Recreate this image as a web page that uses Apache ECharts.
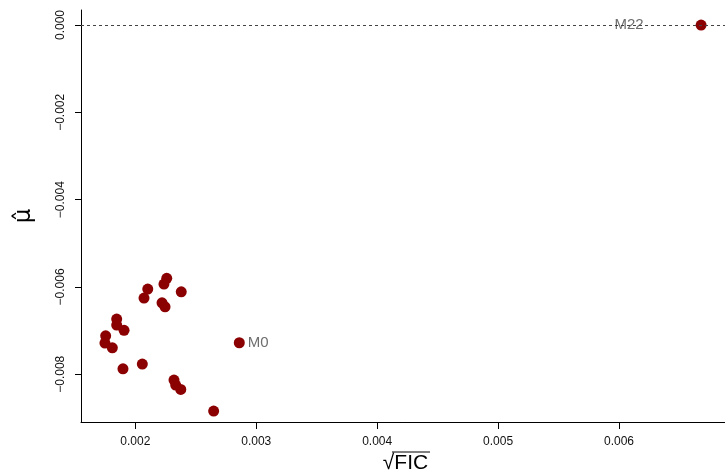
<!DOCTYPE html>
<html>
<head>
<meta charset="utf-8">
<script src="https://cdn.jsdelivr.net/npm/echarts@6/dist/echarts.min.js"></script>
<style>html,body{margin:0;padding:0;background:#fff}#c{width:725px;height:476px}</style>
</head>
<body>
<div id="c"></div>
<script>
const sqrtFIC = [0.002260, 0.002237, 0.002103, 0.002072, 0.002380, 0.002221, 0.002246,
  0.001846, 0.001846, 0.001907, 0.001755, 0.001749, 0.001810, 0.002860,
  0.001898, 0.002058, 0.002320, 0.002334, 0.002376, 0.002648, 0.006679];
const muHat = [-0.005803, -0.005934, -0.006048, -0.006254, -0.006110, -0.006362, -0.006454,
  -0.006735, -0.006873, -0.006994, -0.007118, -0.007285, -0.007393, -0.007278,
  -0.007874, -0.007766, -0.008133, -0.008247, -0.008346, -0.008843, 0.000000];
const modelLabel = ['', '', '', '', '', '', '', '', '', '', '', '', '', 'M0',
  '', '', '', '', '', '', 'M22'];
const xTicks = [0.002, 0.003, 0.004, 0.005, 0.006];
const yTicks = [0.000, -0.002, -0.004, -0.006, -0.008];
const refLine = 0;

const fmt = v => (v < 0 ? '\u2212' : '') + Math.abs(v).toFixed(3);
const labelPos = {'M0': {position: 'right', distance: 3}, 'M22': {position: 'left', distance: 52}};

const data = sqrtFIC.map((x, i) => {
  const item = {value: [x, muHat[i]], name: modelLabel[i]};
  if (modelLabel[i]) {
    item.label = Object.assign({show: true, formatter: '{b}', color: '#6e6e6e',
      fontSize: 15, fontFamily: 'Liberation Sans'}, labelPos[modelLabel[i]]);
  }
  return item;
});

const chart = echarts.init(document.getElementById('c'), null, {renderer: 'canvas'});
chart.setOption({
  animation: false,
  backgroundColor: '#fff',
  grid: {left: 81, right: 0, top: 10, bottom: 54, containLabel: false, outerBoundsMode: 'none'},
  xAxis: {
    type: 'value', min: 0.0015509, max: 0.0068768,
    name: '\u221AFIC', nameLocation: 'middle', nameGap: 29,
    nameTextStyle: {fontSize: 21, color: '#000', fontFamily: 'Liberation Sans', padding: [0, 0, 0, 5]},
    axisLine: {show: true, onZero: false, lineStyle: {color: '#000', width: 1}},
    axisTick: {show: true, length: 7, customValues: xTicks, lineStyle: {color: '#000'}},
    axisLabel: {customValues: xTicks, formatter: fmt, fontSize: 12, color: '#111',
      fontFamily: 'Liberation Sans', margin: 14},
    splitLine: {show: false}
  },
  yAxis: {
    type: 'value', min: -0.009093, max: 0.000344,
    name: '\u03BC\u0302', nameLocation: 'middle', nameGap: 45, nameRotate: 90,
    nameTextStyle: {fontSize: 23, color: '#000', fontFamily: 'DejaVu Sans'},
    axisLine: {show: true, onZero: false, lineStyle: {color: '#000', width: 1}},
    axisTick: {show: true, length: 6, customValues: yTicks, lineStyle: {color: '#000'}},
    axisLabel: {customValues: yTicks, formatter: fmt, fontSize: 12, color: '#111',
      fontFamily: 'Liberation Sans', rotate: 90, margin: 14},
    splitLine: {show: false}
  },
  graphic: [{
    type: 'line', z: 100,
    shape: {x1: 392, y1: 452, x2: 430, y2: 452},
    style: {stroke: '#000', lineWidth: 1}
  }],
  series: [{
    type: 'scatter',
    symbol: 'circle', symbolSize: 11,
    itemStyle: {color: '#8B0000', opacity: 1},
    label: {show: false},
    data: data,
    markLine: {
      silent: true, symbol: 'none', label: {show: false},
      lineStyle: {color: '#444', type: [3, 3], width: 1},
      data: [{yAxis: refLine}]
    }
  }]
});
</script>
</body>
</html>
